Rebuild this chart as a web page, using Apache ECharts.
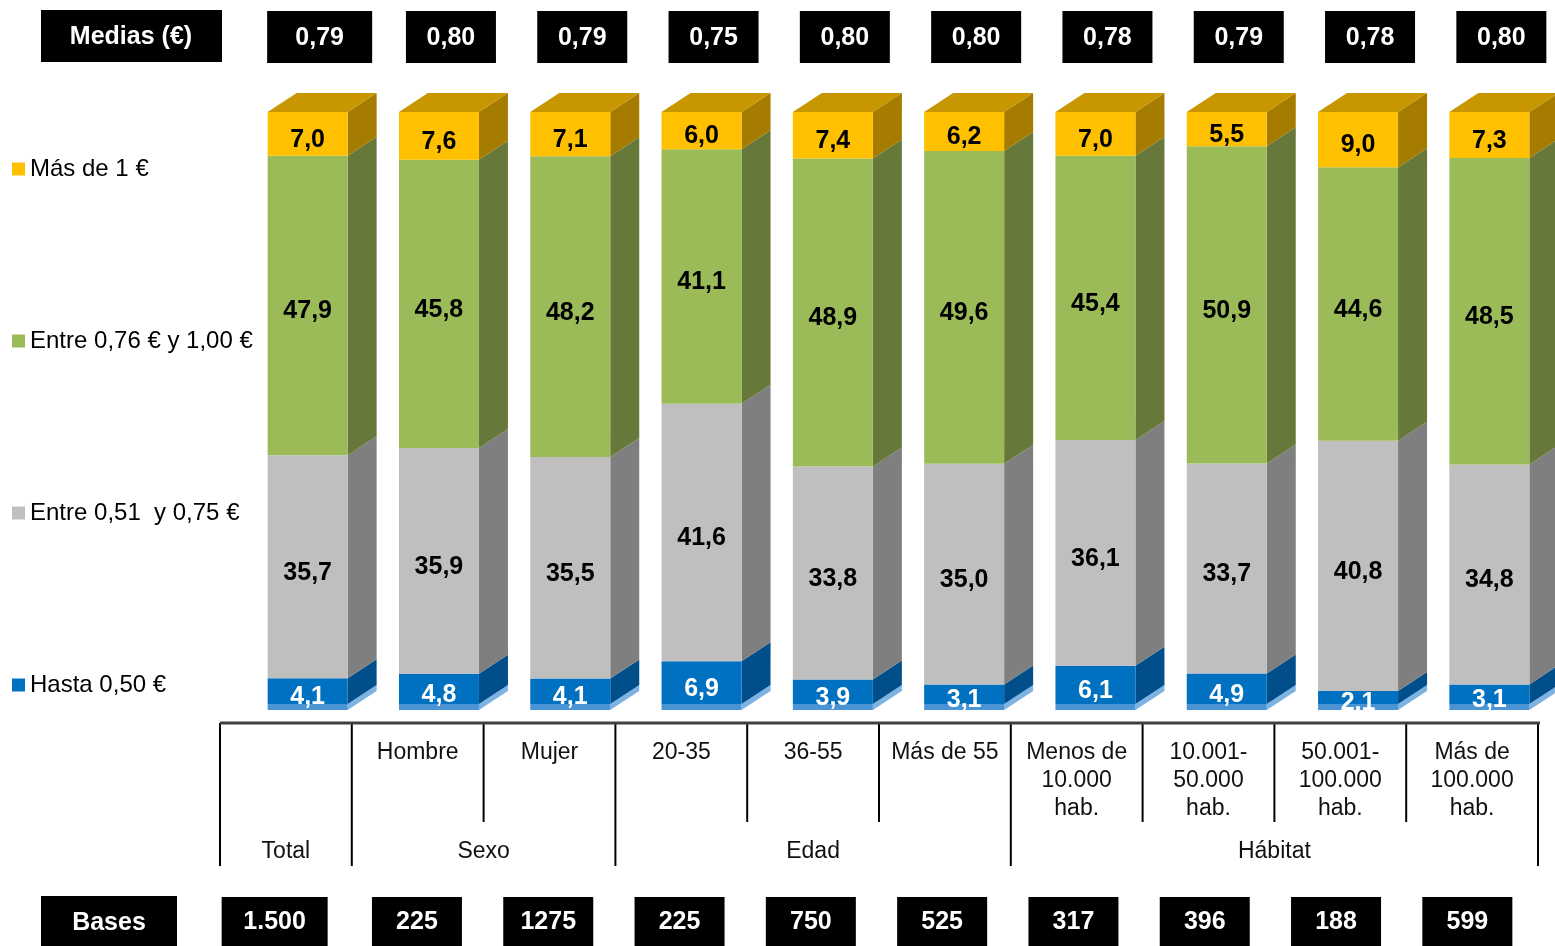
<!DOCTYPE html>
<html>
<head>
<meta charset="utf-8">
<script src="https://cdn.jsdelivr.net/npm/echarts@6/dist/echarts.min.js"></script>
<style>
  html, body { margin: 0; padding: 0; background: #fff; }
  #chart { width: 1555px; height: 946px; }
</style>
</head>
<body>
<div id="chart"></div>
<script>
// data
const categories = ['Total', 'Hombre', 'Mujer', '20-35', '36-55', 'Más de 55',
    'Menos de\n10.000\nhab.', '10.001-\n50.000\nhab.', '50.001-\n100.000\nhab.', 'Más de\n100.000\nhab.'];
const groupNames = ['Total', 'Sexo', 'Edad', 'Hábitat'];
const groupSizes = [1, 2, 3, 4];
const seriesNames = ['Hasta 0,50 €', 'Entre 0,51  y 0,75 €', 'Entre 0,76 € y 1,00 €', 'Más de 1 €'];
const hasta050 = [4.1, 4.8, 4.1, 6.9, 3.9, 3.1, 6.1, 4.9, 2.1, 3.1];
const entre051 = [35.7, 35.9, 35.5, 41.6, 33.8, 35.0, 36.1, 33.7, 40.8, 34.8];
const entre076 = [47.9, 45.8, 48.2, 41.1, 48.9, 49.6, 45.4, 50.9, 44.6, 48.5];
const masDe1 = [7.0, 7.6, 7.1, 6.0, 7.4, 6.2, 7.0, 5.5, 9.0, 7.3];
const medias = [0.79, 0.80, 0.79, 0.75, 0.80, 0.80, 0.78, 0.79, 0.78, 0.80];
const bases = ['1.500', '225', '1275', '225', '750', '525', '317', '396', '188', '599'];

const FONT = '"Liberation Sans", Arial, sans-serif';
const palette = [
    { front: '#0070C0', side: '#004F8A', floor: '#4A94D6', floorSide: '#7DB3E3' },
    { front: '#BFBFBF', side: '#7F7F7F' },
    { front: '#9BBB59', side: '#66793A' },
    { front: '#FFC000', side: '#A67C00', top: '#C89600' },
];
const seriesValues = [hasta050, entre051, entre076, masDe1];

const BAR_W = 80;
const DX = 29;
const DY = 19;

// each column is drawn as share of its own total (bars all reach the same top)
const totals = categories.map((c, i) => seriesValues.reduce((s, arr) => s + arr[i], 0));

const fmt = (v, d) => v.toFixed(d).replace('.', ',');

function stackData(s) {
    return categories.map((c, i) => {
        let start = 0;
        for (let k = 0; k < s; k++) start += seriesValues[k][i] / totals[i] * 100;
        const end = start + seriesValues[s][i] / totals[i] * 100;
        return [i, start, end, seriesValues[s][i]];
    });
}

function makeRenderer(s) {
    const col = palette[s];
    return (params, api) => {
        const i = api.value(0);
        const pBot = api.coord([i, api.value(1)]);
        const pTop = api.coord([i, api.value(2)]);
        const x0 = pBot[0] - BAR_W / 2;
        const x1 = x0 + BAR_W;
        const yT = pTop[1];
        const yB = pBot[1];
        const children = [];
        if (s === 0) {
            // light floor band under the bottom segment
            children.push({ type: 'polygon', shape: { points: [[x1, yB], [x1 + DX, yB - DY], [x1 + DX, yB - DY + 6], [x1, yB + 6]] }, style: { fill: col.floorSide } });
            children.push({ type: 'rect', shape: { x: x0, y: yB, width: BAR_W, height: 6 }, style: { fill: col.floor } });
        }
        children.push({ type: 'polygon', shape: { points: [[x1, yT], [x1 + DX, yT - DY], [x1 + DX, yB - DY], [x1, yB]] }, style: { fill: col.side } });
        children.push({ type: 'rect', shape: { x: x0, y: yT, width: BAR_W, height: yB - yT }, style: { fill: col.front } });
        if (col.top) {
            children.push({ type: 'polygon', shape: { points: [[x0, yT], [x0 + DX, yT - DY], [x1 + DX, yT - DY], [x1, yT]] }, style: { fill: col.top } });
        }
        children.push({
            type: 'text',
            style: {
                x: x0 + BAR_W / 2, y: (yT + yB) / 2 + 6, text: fmt(api.value(3), 1),
                align: 'center', verticalAlign: 'middle',
                fill: s === 0 ? '#fff' : '#000',
                font: 'bold 25px ' + FONT,
            },
        });
        return { type: 'group', children };
    };
}

function boxRenderer(values, width0, shift0, width, height, top, offset) {
    return (params, api) => {
        const i = params.dataIndex;
        const cx = api.coord([i, 0])[0] + offset + (i === 0 ? shift0 : 0);
        const w = i === 0 ? width0 : width;
        return {
            type: 'group',
            children: [
                { type: 'rect', shape: { x: cx - w / 2, y: top, width: w, height }, style: { fill: '#000' } },
                { type: 'text', style: { x: cx, y: top + height / 2 + 1, text: values[i], align: 'center', verticalAlign: 'middle', fill: '#fff', font: 'bold 25px ' + FONT } },
            ],
        };
    };
}

// table under the bars
const TABLE_L = 220;
const CELL_W = 131.8;
const graphics = [
    { type: 'rect', shape: { x: 41, y: 10, width: 181, height: 52 }, style: { fill: '#000' } },
    { type: 'text', style: { x: 131, y: 37, text: 'Medias (€)', align: 'center', verticalAlign: 'middle', fill: '#fff', font: 'bold 25px ' + FONT } },
    { type: 'rect', shape: { x: 41, y: 896, width: 136, height: 50 }, style: { fill: '#000' } },
    { type: 'text', style: { x: 109, y: 923, text: 'Bases', align: 'center', verticalAlign: 'middle', fill: '#fff', font: 'bold 25px ' + FONT } },
];
let k = 0;
const groupEdges = new Set([0]);
groupNames.forEach((g, gi) => {
    const n = groupSizes[gi];
    const left = TABLE_L + k * CELL_W;
    groupEdges.add(k + n);
    graphics.push({ type: 'text', style: { x: left + n * CELL_W / 2, y: 852, text: g, align: 'center', verticalAlign: 'middle', fill: '#111', font: '23px ' + FONT } });
    if (n > 1) {
        for (let j = 0; j < n; j++) {
            graphics.push({ type: 'text', style: { x: left + (j + 0.5) * CELL_W, y: 739, text: categories[k + j], align: 'center', verticalAlign: 'top', lineHeight: 28, fill: '#111', font: '23px ' + FONT } });
        }
    }
    k += n;
});
for (let b = 0; b <= categories.length; b++) {
    const x = TABLE_L + b * CELL_W;
    graphics.push({ type: 'line', shape: { x1: x, y1: 723, x2: x, y2: groupEdges.has(b) ? 866 : 822 }, style: { stroke: '#000', lineWidth: 2 } });
}
graphics.push({ type: 'line', shape: { x1: TABLE_L, y1: 723, x2: TABLE_L + categories.length * CELL_W + 2, y2: 723 }, style: { stroke: '#404040', lineWidth: 3 } });

const series = seriesNames.map((name, s) => ({
    name,
    type: 'custom',
    renderItem: makeRenderer(s),
    itemStyle: { color: palette[s].front },
    encode: { x: 0, y: 2 },
    data: stackData(s),
    z: 2,
}));
series.push({
    type: 'custom',
    renderItem: boxRenderer(medias.map(m => fmt(m, 2)), 105, 0, 90, 52, 11, 12),
    data: categories.map((c, i) => [i, 0]),
    encode: { x: 0, y: 1 },
    silent: true,
});
series.push({
    type: 'custom',
    renderItem: boxRenderer(bases, 106, -11, 90, 49, 897, -22),
    data: categories.map((c, i) => [i, 0]),
    encode: { x: 0, y: 1 },
    silent: true,
});

const chart = echarts.init(document.getElementById('chart'));
chart.setOption({
    animation: false,
    backgroundColor: '#fff',
    grid: { left: 242, width: 1319, top: 112, height: 592 },
    xAxis: { type: 'category', data: categories, show: false },
    yAxis: { type: 'value', min: 0, max: 100, show: false },
    legend: {
        orient: 'vertical',
        left: 7,
        top: 152,
        itemGap: 148,
        itemWidth: 13,
        itemHeight: 13,
        icon: 'rect',
        data: seriesNames.slice().reverse(),
        textStyle: { fontFamily: FONT, fontSize: 24, color: '#000' },
    },
    graphic: graphics,
    series,
});
</script>
</body>
</html>
